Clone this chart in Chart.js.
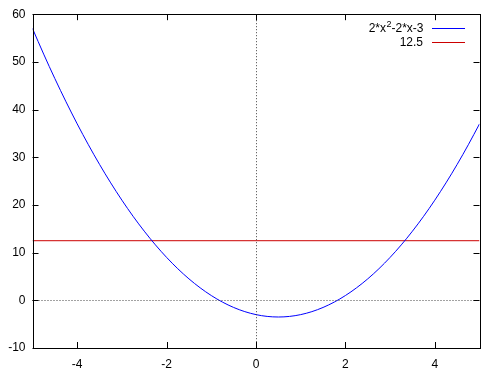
<!DOCTYPE html>
<html>
<head>
<meta charset="utf-8">
<script src="https://cdn.jsdelivr.net/npm/chart.js"></script>
<style>
  body { margin: 0; background: #fff; }
  #wrap { width: 504px; height: 380px; }
</style>
</head>
<body>
<div id="wrap"><canvas id="chart" width="504" height="380"></canvas></div>
<script>
const xs = [-5, -4.75, -4.5, -4.25, -4, -3.75, -3.5, -3.25, -3, -2.75, -2.5, -2.25, -2, -1.75, -1.5, -1.25, -1, -0.75, -0.5, -0.25,
  0, 0.25, 0.5, 0.75, 1, 1.25, 1.5, 1.75, 2, 2.25, 2.5, 2.75, 3, 3.25, 3.5, 3.75, 4, 4.25, 4.5, 4.75, 5];
const curveY = [57, 51.625, 46.5, 41.625, 37, 32.625, 28.5, 24.625, 21, 17.625, 14.5, 11.625, 9, 6.625, 4.5, 2.625, 1, -0.375, -1.5, -2.375,
  -3, -3.375, -3.5, -3.375, -3, -2.375, -1.5, -0.375, 1, 2.625, 4.5, 6.625, 9, 11.625, 14.5, 17.625, 21, 24.625, 28.5, 32.625, 37];
const levelY = 12.5;
const xTicks = [-4, -2, 0, 2, 4];
const yTicks = [-10, 0, 10, 20, 30, 40, 50, 60];
const seriesNames = ["2*x", "2", "-2*x-3"]; // superscript in the middle
const levelName = "12.5";

const FAMILY = "'Liberation Sans', Arial, sans-serif";
const FONT = "12px " + FAMILY;
const SUP = "9px " + FAMILY;

const frame = {
  id: "frame",
  afterDatasetsDraw(chart) {
    const { ctx, chartArea: a, scales: { x, y } } = chart;
    ctx.save();
    // zero axes, dotted
    ctx.strokeStyle = "#444";
    ctx.lineWidth = 1;
    ctx.setLineDash([1, 2]);
    const x0 = Math.round(x.getPixelForValue(0)) + 0.5;
    const y0 = Math.round(y.getPixelForValue(0)) + 0.5;
    ctx.beginPath();
    ctx.moveTo(x0, a.top); ctx.lineTo(x0, a.bottom);
    ctx.moveTo(a.left, y0); ctx.lineTo(a.right, y0);
    ctx.stroke();
    ctx.setLineDash([]);
    // border + inner ticks
    ctx.strokeStyle = "#000";
    ctx.strokeRect(Math.round(a.left) + 0.5, Math.round(a.top) + 0.5,
      Math.round(a.right - a.left), Math.round(a.bottom - a.top));
    ctx.beginPath();
    xTicks.forEach(v => {
      const px = Math.round(x.getPixelForValue(v)) + 0.5;
      ctx.moveTo(px, a.bottom); ctx.lineTo(px, a.bottom - 6);
      ctx.moveTo(px, a.top); ctx.lineTo(px, a.top + 6);
    });
    yTicks.forEach(v => {
      const py = Math.round(y.getPixelForValue(v)) + 0.5;
      ctx.moveTo(a.left, py); ctx.lineTo(a.left + 6, py);
      ctx.moveTo(a.right, py); ctx.lineTo(a.right - 6, py);
    });
    ctx.stroke();

    // key
    ctx.fillStyle = "#000";
    ctx.textBaseline = "middle";
    ctx.textAlign = "left";
    const right = 423;
    ctx.font = FONT;
    const w0 = ctx.measureText(seriesNames[0]).width;
    const w2 = ctx.measureText(seriesNames[2]).width;
    ctx.font = SUP;
    const w1 = ctx.measureText(seriesNames[1]).width;
    let tx = right - w0 - w1 - w2;
    ctx.font = FONT;
    ctx.fillText(seriesNames[0], tx, 29);
    ctx.font = SUP;
    ctx.fillText(seriesNames[1], tx + w0 + 0.5, 25);
    ctx.font = FONT;
    ctx.fillText(seriesNames[2], tx + w0 + w1 + 0.5, 29);
    ctx.textAlign = "right";
    ctx.fillText(levelName, right, 43);
    chart.data.datasets.forEach((ds, i) => {
      const ly = (i === 0 ? 28 : 42) + 0.5;
      ctx.strokeStyle = ds.borderColor;
      ctx.beginPath();
      ctx.moveTo(432, ly); ctx.lineTo(465, ly);
      ctx.stroke();
    });
    ctx.restore();
  }
};

new Chart(document.getElementById("chart").getContext("2d"), {
  type: "line",
  data: {
    datasets: [
      {
        label: "curve",
        data: xs.map((v, i) => ({ x: v, y: curveY[i] })),
        borderColor: "#0000ff",
        borderWidth: 1,
        pointRadius: 0,
        cubicInterpolationMode: "monotone"
      },
      {
        label: levelName,
        data: [{ x: xs[0], y: levelY }, { x: xs[xs.length - 1], y: levelY }],
        borderColor: "#cc0000",
        borderWidth: 1,
        pointRadius: 0
      }
    ]
  },
  plugins: [frame],
  options: {
    responsive: false,
    animation: false,
    layout: { padding: { top: 13.5, right: 24.5, left: 0, bottom: 0 } },
    plugins: { legend: { display: false }, tooltip: { enabled: false } },
    scales: {
      x: {
        type: "linear", min: -5, max: 5,
        afterBuildTicks: s => { s.ticks = xTicks.map(v => ({ value: v })); },
        afterFit: s => { s.height = 32; },
        grid: { display: false, drawTicks: false },
        border: { display: false },
        ticks: { color: "#000", font: { family: FAMILY, size: 12 }, padding: 9, maxRotation: 0 }
      },
      y: {
        min: -10, max: 60,
        afterBuildTicks: s => { s.ticks = yTicks.map(v => ({ value: v })); },
        afterFit: s => { s.width = 32.5; },
        grid: { display: false, drawTicks: false },
        border: { display: false },
        ticks: { color: "#000", font: { family: FAMILY, size: 12 }, padding: 7 }
      }
    }
  }
});
</script>
</body>
</html>
